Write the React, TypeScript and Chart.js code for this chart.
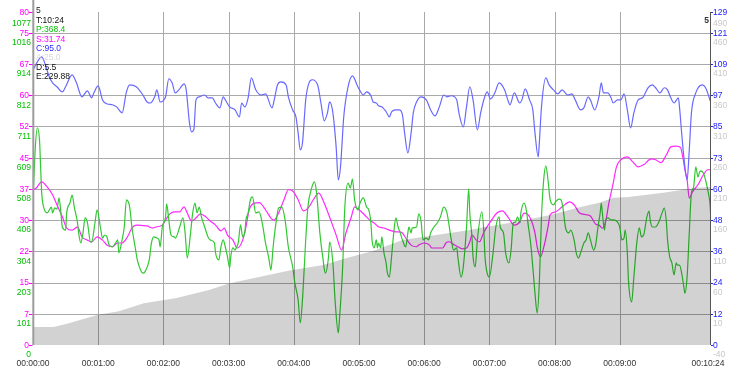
import React, { useEffect, useRef } from 'react';
import { Chart, registerables } from 'chart.js';

Chart.register(...registerables);

// ---- data: [seconds, value] ----
const cadence: [number, number][] = [
  [0,106.6],[8,111.7],[12,107.8],[15,103.9],[18,101.6],[22,100.1],[27,98.1],[30,100.1],[36,104.7],[40,101.6],
  [45,96.2],[50,98.5],[54,95.8],[56,97.7],[60,100.4],[64,95.0],[68,93.5],[73,93.1],[77,92.3],[82,90.0],
  [86,98.1],[89,100.8],[95,100.1],[101,97.0],[105,94.2],[108,93.8],[112,96.2],[114,98.9],[117,94.2],[122,96.2],
  [125,103.2],[128,101.6],[131,97.7],[135,99.3],[139,101.2],[141,98.9],[144,86.1],[146,82.6],[148,83.4],[150,95.0],
  [153,96.2],[158,96.9],[161,95.8],[165,95.8],[168,93.8],[172,91.9],[175,96.2],[177,95.0],[181,92.3],[186,91.1],
  [190,88.4],[192,93.8],[195,92.3],[198,95.8],[201,103.5],[205,98.9],[210,96.9],[214,97.3],[220,91.9],[222,95.0],
  [225,100.8],[228,102.0],[233,100.8],[235,96.2],[239,91.1],[242,88.4],[244,82.2],[246,75.6],[248,78.3],[251,95.0],
  [254,101.6],[257,102.8],[262,100.8],[265,93.8],[268,86.9],[271,90.0],[273,94.2],[276,90.0],[279,76.8],[281,64.0],
  [283,69.0],[286,88.4],[290,100.1],[294,104.3],[299,100.1],[304,96.9],[307,98.1],[311,96.6],[313,94.2],[316,93.8],
  [318,92.7],[321,92.3],[325,90.4],[328,88.4],[330,90.4],[334,91.1],[337,91.1],[340,89.2],[342,82.2],[345,74.5],
  [348,82.2],[350,90.0],[353,94.2],[357,96.2],[362,95.0],[366,91.1],[370,88.8],[374,92.3],[378,96.9],[381,96.2],
  [385,96.6],[390,95.0],[392,90.0],[396,84.5],[399,92.3],[402,100.1],[405,95.0],[409,83.4],[412,90.0],[416,96.5],
  [418,98.1],[421,95.4],[425,97.7],[429,101.6],[434,98.9],[437,95.0],[439,93.1],[443,97.7],[448,93.8],[450,95.0],
  [453,99.3],[457,95.0],[460,91.1],[462,82.2],[465,72.9],[466,78.3],[468,92.3],[472,103.5],[475,100.8],[479,98.9],
  [483,97.3],[487,98.9],[492,96.9],[496,97.3],[499,95.0],[504,91.1],[507,91.9],[511,96.2],[513,95.0],[517,91.1],
  [521,96.5],[523,101.6],[525,97.7],[529,97.7],[532,95.8],[534,93.8],[538,95.0],[541,95.0],[544,97.3],[547,91.1],
  [550,84.1],[553,90.0],[557,95.0],[561,95.8],[566,99.7],[570,100.8],[573,99.7],[577,97.7],[581,99.7],[584,98.9],
  [587,95.8],[590,93.8],[594,95.8],[595,92.3],[597,82.2],[599,72.9],[602,64.0],[604,75.6],[606,90.0],[610,97.7],
  [616,100.8],[619,99.7],[624,93.8],
];

const speed: [number, number][] = [
  [0,37.3],[3,37.7],[8,39.2],[13,38.0],[18,36.1],[22,33.7],[27,30.8],[31,28.1],[36,27.6],[41,28.4],
  [45,26.0],[50,25.2],[54,24.8],[59,26.0],[64,25.2],[68,24.0],[73,23.6],[78,24.5],[82,24.5],[87,26.0],
  [91,28.1],[95,28.8],[101,28.7],[105,28.6],[110,28.1],[114,28.4],[119,28.8],[122,30.0],[126,31.5],[130,32.0],
  [135,32.0],[139,33.2],[142,31.7],[146,29.8],[150,30.5],[154,31.5],[159,30.8],[163,29.8],[168,28.8],[173,27.4],
  [176,28.1],[179,26.4],[184,25.2],[188,23.3],[193,25.2],[196,28.4],[199,32.5],[204,34.1],[208,34.2],[210,33.9],
  [214,32.5],[219,30.5],[222,30.0],[226,31.7],[231,34.9],[235,37.3],[239,37.0],[244,34.9],[249,32.2],[254,33.2],
  [258,34.9],[263,36.5],[268,34.1],[274,30.0],[279,26.4],[284,22.8],[288,26.9],[293,30.8],[296,33.2],[300,32.5],
  [305,31.3],[310,30.0],[314,29.3],[318,28.4],[323,28.1],[328,27.6],[330,27.4],[334,27.2],[337,27.2],[340,26.9],
  [343,25.7],[348,24.0],[353,23.6],[355,24.0],[360,24.5],[365,24.0],[367,23.3],[372,23.3],[377,23.3],[380,24.5],
  [383,24.8],[388,24.0],[391,23.6],[395,23.1],[399,23.3],[402,24.8],[404,26.4],[408,25.2],[411,24.8],[414,26.5],
  [416,27.6],[421,29.6],[427,31.7],[432,32.2],[437,30.8],[443,28.8],[448,29.6],[452,31.7],[457,30.8],[462,26.9],
  [464,23.6],[467,21.2],[471,24.5],[474,28.4],[476,31.3],[481,32.0],[487,33.2],[494,34.4],[498,33.7],[503,31.7],
  [509,31.3],[513,31.0],[518,29.0],[521,28.8],[524,28.1],[527,29.6],[530,34.1],[534,38.9],[537,42.8],[541,44.5],
  [547,45.2],[552,44.0],[557,42.8],[562,43.3],[569,44.7],[573,44.5],[578,43.8],[583,45.7],[587,47.6],[592,47.8],
  [596,47.4],[598,45.2],[600,42.1],[602,39.7],[604,35.3],[607,36.8],[612,38.5],[617,40.9],[621,42.1],[624,42.1],
];

const power: [number, number][] = [
  [0,472],[2,635],[4,707],[6,667],[7,580],[8,495],[10,446],[13,430],[17,449],[18,430],
  [20,446],[22,443],[24,479],[26,417],[27,384],[30,374],[31,430],[34,462],[36,488],[38,449],
  [41,397],[42,365],[44,332],[46,365],[48,414],[50,400],[53,335],[54,335],[57,397],[59,440],
  [62,384],[64,348],[66,358],[68,352],[70,326],[73,319],[76,332],[78,342],[79,300],[82,342],
  [84,384],[86,472],[89,449],[91,384],[94,319],[96,277],[99,244],[101,234],[103,238],[107,277],
  [109,332],[111,352],[114,348],[116,342],[117,319],[119,384],[122,417],[123,459],[125,407],[127,358],
  [130,352],[131,348],[135,384],[138,414],[140,365],[142,283],[145,365],[147,430],[149,462],[151,430],
  [153,449],[155,417],[158,384],[161,352],[163,342],[167,332],[168,300],[171,277],[173,319],[175,342],
  [177,319],[179,287],[181,251],[182,287],[184,316],[186,309],[187,316],[189,335],[191,391],[193,352],
  [195,368],[196,407],[198,430],[200,472],[202,482],[205,430],[208,433],[211,397],[214,332],[217,283],
  [219,244],[221,319],[224,407],[226,446],[229,449],[232,407],[235,319],[239,254],[241,202],[244,147],
  [246,72],[248,147],[251,342],[253,449],[256,505],[259,531],[261,495],[264,365],[267,277],[269,234],
  [272,287],[273,335],[276,267],[278,147],[281,39],[282,81],[285,254],[287,449],[290,527],[292,511],
  [294,540],[296,472],[299,440],[301,462],[304,479],[307,449],[309,440],[311,397],[312,342],[314,316],
  [316,342],[317,316],[318,332],[320,316],[321,352],[323,300],[325,267],[326,238],[328,221],[330,287],
  [332,365],[334,414],[336,384],[338,365],[340,342],[343,319],[345,365],[346,384],[348,365],[349,381],
  [353,384],[355,427],[357,407],[359,342],[362,348],[364,342],[366,365],[369,384],[372,397],[375,417],
  [378,449],[381,430],[385,342],[387,309],[390,316],[391,287],[394,221],[396,254],[399,384],[401,508],
  [402,430],[404,352],[405,287],[407,254],[409,342],[413,433],[415,365],[416,287],[418,234],[420,221],
  [423,287],[426,384],[429,417],[430,384],[433,365],[435,300],[438,267],[440,309],[442,397],[444,400],
  [446,417],[448,397],[449,430],[452,462],[454,440],[456,384],[458,332],[460,254],[462,169],[464,104],
  [466,202],[468,417],[470,537],[472,583],[474,537],[476,472],[479,456],[481,466],[484,475],[486,472],
  [488,440],[490,384],[493,365],[495,374],[498,342],[500,300],[502,283],[504,300],[507,332],[509,342],
  [511,365],[513,342],[516,309],[518,330],[520,384],[522,430],[523,462],[524,430],[526,374],[527,407],
  [529,414],[532,407],[534,407],[538,400],[540,384],[542,342],[544,348],[545,374],[547,300],[548,212],
  [551,140],[553,221],[556,342],[558,381],[560,352],[562,358],[565,417],[567,436],[568,407],[570,384],
  [573,384],[576,400],[579,430],[581,446],[583,397],[584,342],[586,287],[588,267],[590,228],[592,267],
  [593,260],[595,260],[597,234],[599,189],[600,169],[602,221],[604,365],[606,495],[608,514],[610,580],
  [612,547],[614,567],[617,560],[619,537],[621,505],[623,462],[624,407],
];

const altitude: [number, number][] = [
  [0,-11],[19,-11],[33,-5],[59,8],[79,14],[102,27],[131,35],[162,48],[181,59],[208,69],
  [235,79],[267,88],[292,101],[312,110],[340,128],[371,136],[402,144],[416,149],[444,157],[475,168],
  [504,181],[521,188],[534,196],[548,197],[580,204],[610,212],[624,213],
];

// ---- axes ----
const timeTickValues = [0, 60, 120, 180, 240, 300, 360, 420, 480, 540, 624];
const timeTickLabels = ['00:00:00','00:01:00','00:02:00','00:03:00','00:04:00','00:05:00','00:06:00','00:07:00','00:08:00','00:09:00','00:10:24'];
const speedTickValues = [0, 7.5, 15, 22.5, 30, 37.5, 45, 52.5, 60, 67.5, 75, 80];
const speedTickLabels = ['0','7','15','22','30','37','45','52','60','67','75','80'];
const powerTickValues = [0, 101.6, 203.2, 304.8, 406.4, 508, 609.6, 711.2, 812.8, 914.4, 1016, 1077];
const powerTickLabels = ['0','101','203','304','406','508','609','711','812','914','1016','1077'];
const cadenceTickValues = [0, 12.1, 24.2, 36.3, 48.4, 60.5, 72.6, 84.7, 96.8, 108.9, 121, 129];
const cadenceTickLabels = ['0','12','24','36','48','60','73','85','97','109','121','129'];
const altTickValues = [-40, 10, 60, 110, 160, 210, 260, 310, 360, 410, 460, 490];
const altTickLabels = ['-40','10','60','110','160','210','260','310','360','410','460','490'];

const overlayTexts = ['5', 'T:10:24', 'P:368.4', 'S:31.74', 'C:95.0', 'A:25.0', 'D:5.5', 'E:229.88'];
const overlayColors = ['#222222', '#111111', '#00c000', '#ff00ff', '#2a2aff', '#d8d8d8', '#111111', '#111111'];

const FONT = '"Liberation Sans", Arial, sans-serif';
const MAGENTA = '#ff00ff';
const GREEN_LABEL = '#00c000';
const BLUE_LABEL = '#2020ff';
const GRAY_LABEL = '#c8c8c8';

const toXY = (arr: [number, number][]) => arr.map(([x, y]) => ({ x, y }));

const decorPlugin = {
  id: 'decor',
  beforeDatasetsDraw(chart: any) {
    const { ctx, chartArea: a, scales } = chart;
    ctx.save();
    ctx.strokeStyle = '#a9a9a9';
    ctx.lineWidth = 1;
    ctx.beginPath();
    for (let i = 1; i <= 10; i++) {
      const y = Math.round(scales.yS.getPixelForValue(speedTickValues[i])) + 0.5;
      ctx.moveTo(a.left, y);
      ctx.lineTo(a.right, y);
    }
    for (let i = 1; i < timeTickValues.length - 1; i++) {
      const x = Math.round(scales.x.getPixelForValue(timeTickValues[i])) + 0.5;
      ctx.moveTo(x, a.top);
      ctx.lineTo(x, a.bottom);
    }
    ctx.stroke();
    ctx.restore();
  },
  afterDraw(chart: any) {
    const { ctx, chartArea: a, scales } = chart;
    ctx.save();
    // axis lines
    ctx.strokeStyle = '#9c9c9c';
    ctx.lineWidth = 2;
    ctx.beginPath();
    ctx.moveTo(a.left + 0.3, 0);
    ctx.lineTo(a.left + 0.3, a.bottom);
    ctx.stroke();
    ctx.strokeStyle = '#555555';
    ctx.lineWidth = 1;
    ctx.beginPath();
    ctx.moveTo(a.right - 0.5, a.top);
    ctx.lineTo(a.right - 0.5, a.bottom);
    ctx.stroke();

    ctx.font = `8.5px ${FONT}`;
    ctx.textBaseline = 'middle';
    // left: speed (magenta) + power (green)
    for (let i = 0; i < speedTickValues.length; i++) {
      const y = scales.yS.getPixelForValue(speedTickValues[i]);
      ctx.strokeStyle = MAGENTA;
      ctx.beginPath();
      ctx.moveTo(a.left - 4, Math.round(y) + 0.5);
      ctx.lineTo(a.left - 0.5, Math.round(y) + 0.5);
      ctx.stroke();
      ctx.fillStyle = MAGENTA;
      ctx.textAlign = 'right';
      ctx.fillText(speedTickLabels[i], a.left - 4, y + 0.5);
    }
    for (let i = 0; i < powerTickValues.length; i++) {
      const y = scales.yP.getPixelForValue(powerTickValues[i]) + 10;
      ctx.fillStyle = GREEN_LABEL;
      ctx.textAlign = 'right';
      ctx.fillText(powerTickLabels[i], a.left - 2, y);
    }
    // right: cadence (blue) + altitude (gray)
    for (let i = 0; i < cadenceTickValues.length; i++) {
      const y = scales.yC.getPixelForValue(cadenceTickValues[i]);
      ctx.strokeStyle = BLUE_LABEL;
      ctx.beginPath();
      ctx.moveTo(a.right, Math.round(y) + 0.5);
      ctx.lineTo(a.right + 2, Math.round(y) + 0.5);
      ctx.stroke();
      ctx.fillStyle = BLUE_LABEL;
      ctx.textAlign = 'left';
      ctx.fillText(cadenceTickLabels[i], a.right + 2, y + 0.5);
    }
    for (let i = 0; i < altTickValues.length; i++) {
      const y = scales.yA.getPixelForValue(altTickValues[i]) + 10;
      ctx.fillStyle = GRAY_LABEL;
      ctx.textAlign = 'left';
      ctx.fillText(altTickLabels[i], a.right + 2, y);
    }
    // x labels
    ctx.fillStyle = '#333333';
    ctx.textAlign = 'center';
    for (let i = 0; i < timeTickValues.length; i++) {
      let x = scales.x.getPixelForValue(timeTickValues[i]);
      if (i === timeTickValues.length - 1) x -= 3;
      ctx.fillText(timeTickLabels[i], x, a.bottom + 19);
    }
    // overlay texts
    ctx.textAlign = 'left';
    for (let i = 0; i < overlayTexts.length; i++) {
      ctx.fillStyle = overlayColors[i];
      ctx.fillText(overlayTexts[i], a.left + 3, 11 + i * 9.4);
    }
    ctx.fillStyle = '#333333';
    ctx.textAlign = 'right';
    ctx.font = `bold 8.5px ${FONT}`;
    ctx.fillText('5', a.right - 2, 21);
    ctx.restore();
  },
};

export default function App() {
  const ref = useRef<HTMLCanvasElement | null>(null);
  useEffect(() => {
    if (!ref.current) return;
    const line = (data: [number, number][], color: string, axis: string, order: number) => ({
      data: toXY(data),
      borderColor: color,
      backgroundColor: color,
      borderWidth: 1.2,
      pointRadius: 0,
      cubicInterpolationMode: 'monotone' as const,
      fill: false,
      yAxisID: axis,
      order,
    });
    const chart = new Chart(ref.current, {
      type: 'line',
      data: {
        datasets: [
          {
            data: toXY(altitude),
            borderWidth: 0,
            borderColor: 'rgba(0,0,0,0)',
            backgroundColor: 'rgba(0,0,0,0.175)',
            pointRadius: 0,
            fill: 'start',
            tension: 0,
            yAxisID: 'yA',
            order: 0,
          },
          line(cadence, 'rgb(105,105,255)', 'yC', 1),
          line(power, 'rgb(50,200,50)', 'yP', 2),
          line(speed, 'rgb(255,40,255)', 'yS', 3),
        ],
      },
      options: {
        responsive: false,
        animation: false,
        layout: { padding: { left: 33, right: 26, top: 12, bottom: 27 } },
        plugins: { legend: { display: false }, tooltip: { enabled: false } },
        scales: {
          x: { type: 'linear', min: 0, max: 624, display: false },
          yS: { type: 'linear', min: 0, max: 80, display: false },
          yP: { type: 'linear', min: 0, max: 1016 * 80 / 75, display: false },
          yC: { type: 'linear', min: 0, max: 121 * 80 / 75, display: false },
          yA: { type: 'linear', min: -40, max: -40 + 500 * 80 / 75, display: false },
        },
      },
      plugins: [decorPlugin],
    });
    return () => chart.destroy();
  }, []);
  return (
    <div style={{ position: 'fixed', left: 0, top: 0, width: 737, height: 372, background: '#fff' }}>
      <canvas ref={ref} width={737} height={372} />
    </div>
  );
}
